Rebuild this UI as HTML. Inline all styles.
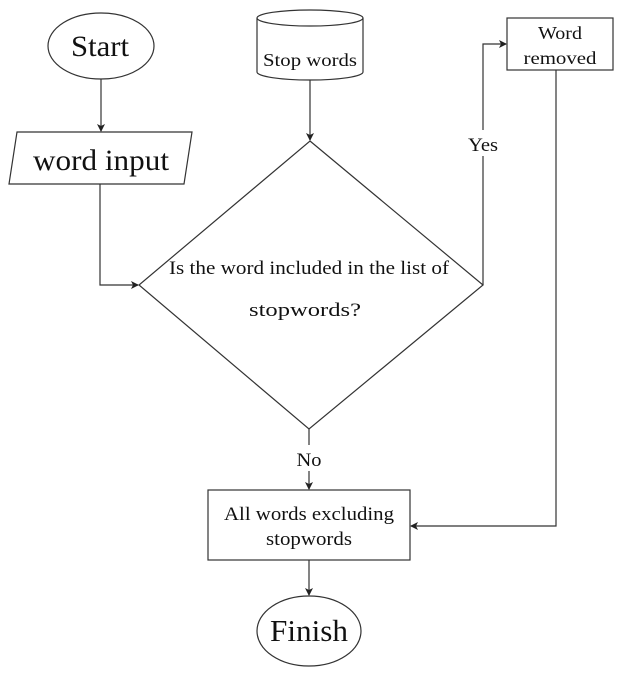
<!DOCTYPE html>
<html><head><meta charset="utf-8"><style>
html,body{margin:0;padding:0;background:#fff;}
svg{display:block;font-family:"Liberation Serif",serif;}
</style></head><body>
<svg width="618" height="675" viewBox="0 0 618 675" xmlns="http://www.w3.org/2000/svg">
<defs><marker id="a" markerWidth="8" markerHeight="8" refX="7" refY="4" orient="auto" markerUnits="userSpaceOnUse"><path d="M0,0 L8,4 L0,8 L2,4 Z" fill="#222"/></marker></defs>
<g fill="none" stroke="#333" stroke-width="1.2">
<ellipse cx="101" cy="46" rx="53" ry="33" fill="#fff"/>
<line x1="101" y1="79" x2="101" y2="131" marker-end="url(#a)"/>
<polygon points="17,132 192,132 184,184 9,184" fill="#fff"/>
<polyline points="100,184 100,285 138,285" marker-end="url(#a)"/>
<path d="M257,18 A53,8 0 0 1 363,18 L363,72 A53,8 0 0 1 257,72 Z" fill="#fff"/>
<path d="M257,18 A53,8 0 0 0 363,18"/>
<line x1="310" y1="80" x2="310" y2="140" marker-end="url(#a)"/>
<polygon points="310,141 483,285 309,429 139,285" fill="#fff"/>
<polyline points="483,285 483,44 506,44" marker-end="url(#a)"/>
<rect x="507" y="18" width="106" height="52" fill="#fff"/>
<polyline points="556,70 556,526 411,526" marker-end="url(#a)"/>
<line x1="309" y1="429" x2="309" y2="489" marker-end="url(#a)"/>
<rect x="208" y="490" width="202" height="70" fill="#fff"/>
<line x1="309" y1="560" x2="309" y2="595" marker-end="url(#a)"/>
<ellipse cx="309" cy="631" rx="52" ry="35" fill="#fff"/>
</g>
<rect x="462" y="130" width="40" height="26" fill="#fff"/>
<rect x="292" y="445" width="34" height="26" fill="#fff"/>
<g fill="#111" text-anchor="middle" lengthAdjust="spacingAndGlyphs">
<text x="100" y="56" font-size="30" textLength="58" lengthAdjust="spacingAndGlyphs">Start</text>
<text x="101" y="170" font-size="30" textLength="136" lengthAdjust="spacingAndGlyphs">word input</text>
<text x="310" y="66" font-size="18" textLength="94" lengthAdjust="spacingAndGlyphs">Stop words</text>
<text x="309" y="274" font-size="19" textLength="280" lengthAdjust="spacingAndGlyphs">Is the word included in the list of</text>
<text x="305" y="316" font-size="19" textLength="112" lengthAdjust="spacingAndGlyphs">stopwords?</text>
<text x="483" y="151" font-size="19" textLength="30" lengthAdjust="spacingAndGlyphs">Yes</text>
<text x="560" y="39" font-size="18" textLength="44" lengthAdjust="spacingAndGlyphs">Word</text>
<text x="560" y="64" font-size="18" textLength="73" lengthAdjust="spacingAndGlyphs">removed</text>
<text x="309" y="466" font-size="19" textLength="25" lengthAdjust="spacingAndGlyphs">No</text>
<text x="309" y="520" font-size="19" textLength="170" lengthAdjust="spacingAndGlyphs">All words excluding</text>
<text x="309" y="545" font-size="19" textLength="86" lengthAdjust="spacingAndGlyphs">stopwords</text>
<text x="309" y="641" font-size="31" textLength="78" lengthAdjust="spacingAndGlyphs">Finish</text>
</g>
</svg>
</body></html>
